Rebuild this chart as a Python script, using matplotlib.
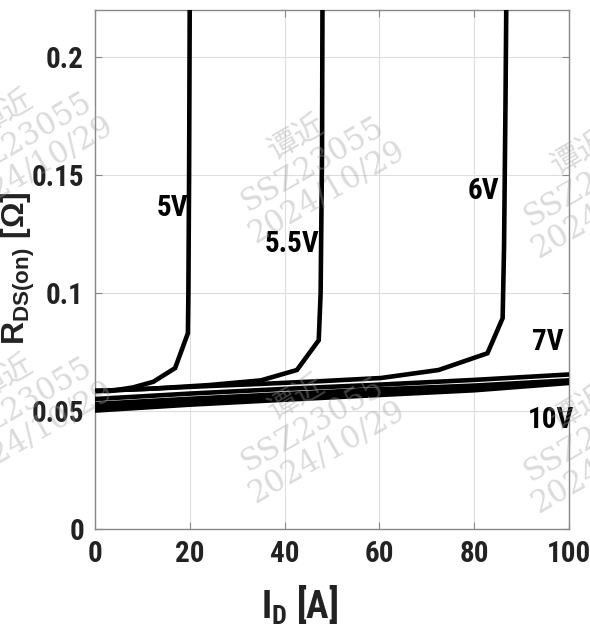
import matplotlib
matplotlib.use("Agg")
import matplotlib.pyplot as plt
from matplotlib import font_manager as fm

plt.rcParams['mathtext.default'] = 'regular'

# ---- data ----
I_5V = [0, 3.2, 8, 12.3, 16.9, 19.6, 19.7, 19.85, 20.0]
R_5V = [0.0585, 0.0585, 0.0600, 0.0624, 0.0682, 0.0830, 0.100, 0.150, 0.230]

I_55V = [0, 12, 24, 35, 42.6, 47.2, 47.6, 47.9, 48.0]
R_55V = [0.0585, 0.0595, 0.0610, 0.0630, 0.0674, 0.0800, 0.100, 0.160, 0.230]

I_6V = [0, 12, 24, 35, 48, 60.3, 72.5, 82.8, 86.0, 86.3, 86.6, 86.8]
R_6V = [0.0585, 0.0595, 0.0606, 0.0615, 0.0627, 0.0640, 0.0674, 0.0745, 0.0894, 0.120, 0.180, 0.230]

I_lin = [0, 20, 40, 60, 80, 100]
R_7V = [0.0551, 0.0574, 0.0594, 0.0612, 0.0632, 0.0655]
R_8V = [0.0530, 0.0552, 0.0572, 0.0592, 0.0608, 0.0630]
R_9V = [0.0515, 0.0538, 0.0558, 0.0578, 0.0596, 0.0623]
R_10V = [0.0502, 0.0527, 0.0548, 0.0568, 0.0588, 0.0619]

curve_labels = ['5V', '5.5V', '6V', '7V', '10V']
label_x = [16.3, 41.6, 82.0, 95.6, 96.2]
label_y = [0.136, 0.1208, 0.1432, 0.0792, 0.0462]

x_ticks = [0, 20, 40, 60, 80, 100]
y_ticks = [0, 0.05, 0.1, 0.15, 0.2]
y_tick_labels = ['0', '0.05', '0.1', '0.15', '0.2']

watermark = '谭近\nSSZ23055\n2024/10/29'
wm_x = [20, 312, 595, 20, 312, 595]
wm_y = [140, 165, 180, 405, 425, 435]

# ---- pick the narrowest bold sans font available ----
prefs = ['liberationsansnarrow-bold', 'robotocondensed-bold', 'notosans-condensedbold',
         'opensans-condbold', 'opensanscondensed-bold', 'arialnarrowbold', 'arial narrow bold',
         'notosans-semicondensedbold', 'dejavusanscondensed-bold']
paths = [f.fname for f in fm.fontManager.ttflist]
chosen = None
for p in prefs:
    for path in paths:
        base = path.replace('\\', '/').split('/')[-1].lower().replace('_', '-')
        if base.startswith(p):
            chosen = path
            break
    if chosen:
        break
if chosen:
    def NP(size):
        return fm.FontProperties(fname=chosen, size=size)
else:
    def NP(size):
        return fm.FontProperties(family=['Liberation Sans', 'DejaVu Sans'], weight='bold', size=size)

fig = plt.figure(figsize=(5.9, 6.35), dpi=100)
ax = fig.add_axes([95/590, 1 - 529/635, (569-95)/590, (529-10)/635])

lw = 3.3
for I, R in [(I_lin, R_10V), (I_lin, R_9V), (I_lin, R_8V), (I_lin, R_7V),
             (I_6V, R_6V), (I_55V, R_55V), (I_5V, R_5V)]:
    ax.plot(I, R, color='black', lw=lw, solid_joinstyle='miter', zorder=3)

ax.set_xlim(0, 100)
ax.set_ylim(0, 0.22)
ax.set_xticks(x_ticks)
ax.set_yticks(y_ticks)
ax.set_yticklabels(y_tick_labels)
ax.grid(True, color='#dedede', lw=0.8)
ax.set_axisbelow(True)
for s in ax.spines.values():
    s.set_color('#888888')
    s.set_linewidth(1.0)
ax.tick_params(direction='in', length=5, color='#888888', top=True, right=True, pad=8)
for lab in ax.get_xticklabels() + ax.get_yticklabels():
    lab.set_fontproperties(NP(21))
    lab.set_color('#222222')

for t, x, y in zip(curve_labels, label_x, label_y):
    ax.text(x, y, t, ha='center', va='center', fontproperties=NP(21), zorder=5)

fig.text(300/590, 1 - 605/635, r'I$_{D}$ [A]', ha='center', va='center',
         fontproperties=NP(27), color='#222222')
fig.text(18/590, 1 - 268/635, r'R$_{DS(on)}$ [$\Omega$]', ha='center', va='center',
         rotation=90, fontsize=23, fontweight='bold', family=['Liberation Sans', 'DejaVu Sans'],
         color='#222222')

for x, y in zip(wm_x, wm_y):
    fig.text(x/590, 1 - y/635, watermark, ha='center', va='center', rotation=30,
             fontsize=22, color='#a0a0a0', alpha=0.38, linespacing=1.0,
             family=['DejaVu Serif', 'Noto Sans CJK SC'], zorder=10)

fig.savefig('out.png', dpi=100)
